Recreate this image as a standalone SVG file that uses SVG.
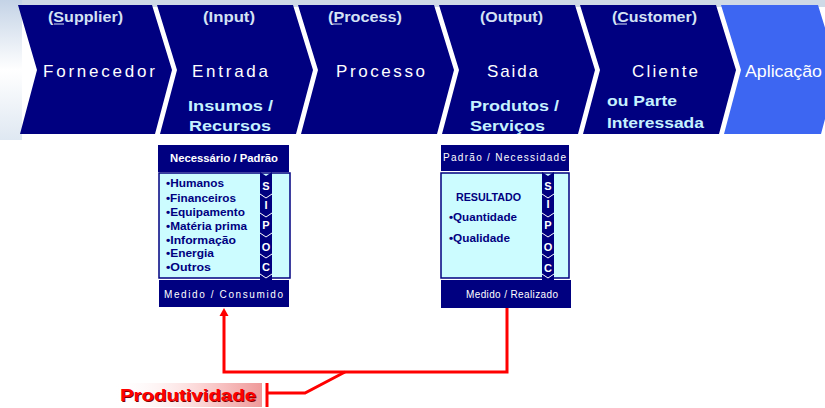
<svg xmlns="http://www.w3.org/2000/svg" width="825" height="408" viewBox="0 0 825 408">
<defs>
<linearGradient id="bgLeft" x1="0" y1="0" x2="0" y2="1">
<stop offset="0" stop-color="#c4d3e6"/><stop offset="0.5" stop-color="#ffffff"/><stop offset="1" stop-color="#dfe8f2"/>
</linearGradient>
<linearGradient id="pink" x1="0" y1="0" x2="1" y2="0">
<stop offset="0" stop-color="#ffffff" stop-opacity="0"/><stop offset="0.6" stop-color="#fbd4d4"/><stop offset="1" stop-color="#ef9a9a"/>
</linearGradient>
<style>
.chev{fill:#000080}
.top{font-family:"Liberation Sans",Arial,sans-serif;font-weight:bold;font-size:14px;fill:#d4e2f4;text-anchor:start}
.main{font-family:"Liberation Sans",Arial,sans-serif;font-size:17px;fill:#ffffff}
.sub{font-family:"Liberation Sans",Arial,sans-serif;font-weight:bold;font-size:15px;fill:#c6f2ff}
.hdr{fill:#000080}
.body{fill:#ccfcff;stroke:#000080;stroke-width:1.5}
.item{font-family:"Liberation Sans Narrow","Liberation Sans",Arial,sans-serif;font-weight:bold;font-size:11px;fill:#000080}
.wt{font-family:"Liberation Sans",Arial,sans-serif;font-size:10px;fill:#ffffff}
.wtb{font-family:"Liberation Sans Narrow","Liberation Sans",Arial,sans-serif;font-weight:bold;font-size:11px;fill:#ffffff}
.let{font-family:"Liberation Sans Narrow","Liberation Sans",Arial,sans-serif;font-weight:bold;font-size:11px;fill:#ffffff;text-anchor:middle}
.sep{fill:none;stroke:#ffffff;stroke-width:1}
.red{fill:none;stroke:#ff0000;stroke-width:3}
</style>
</defs>
<rect x="0" y="0" width="825" height="408" fill="#ffffff"/>
<rect x="0" y="0" width="825" height="7" fill="#cfd9e6"/>
<rect x="0" y="0" width="22" height="140" fill="url(#bgLeft)"/>

<g id="supplier">
<path class="chev" d="M18,5 L152,5 L172,70 L155,134 L20,134 L37,70 Z"/>
<text class="top" x="48" y="22" textLength="75" lengthAdjust="spacingAndGlyphs">(Supplier)</text>
<line x1="54" y1="24" x2="64" y2="24" stroke="#d4e2f4" stroke-width="1"/>
<text class="main" x="43" y="77" textLength="112" lengthAdjust="spacing">Fornecedor</text>
</g>
<g id="input">
<path class="chev" d="M157,5 L293,5 L313,70 L296,134 L160,134 L177,70 Z"/>
<text class="top" x="203" y="22" textLength="52" lengthAdjust="spacingAndGlyphs">(Input)</text>
<text class="main" x="192" y="77" textLength="76" lengthAdjust="spacing">Entrada</text>
<text class="sub" x="188" y="111" textLength="85" lengthAdjust="spacingAndGlyphs">Insumos /</text>
<text class="sub" x="189" y="131" textLength="82" lengthAdjust="spacingAndGlyphs">Recursos</text>
</g>
<g id="process">
<path class="chev" d="M298,5 L434,5 L454,70 L437,134 L301,134 L318,70 Z"/>
<text class="top" x="328" y="22" textLength="74" lengthAdjust="spacingAndGlyphs">(Process)</text>
<line x1="333" y1="24" x2="342" y2="24" stroke="#d4e2f4" stroke-width="1"/>
<text class="main" x="336" y="77" textLength="89" lengthAdjust="spacing">Processo</text>
</g>
<g id="output">
<path class="chev" d="M439,5 L575,5 L595,70 L578,134 L442,134 L459,70 Z"/>
<text class="top" x="480" y="22" textLength="63" lengthAdjust="spacingAndGlyphs">(Output)</text>
<text class="main" x="487" y="77" textLength="51" lengthAdjust="spacing">Saida</text>
<text class="sub" x="470" y="111" textLength="89" lengthAdjust="spacingAndGlyphs">Produtos /</text>
<text class="sub" x="470" y="131" textLength="75" lengthAdjust="spacingAndGlyphs">Serviços</text>
</g>
<g id="customer">
<path class="chev" d="M580,5 L716,5 L736,70 L719,134 L583,134 L600,70 Z"/>
<text class="top" x="612" y="22" textLength="85" lengthAdjust="spacingAndGlyphs">(Customer)</text>
<line x1="617" y1="24" x2="627" y2="24" stroke="#d4e2f4" stroke-width="1"/>
<text class="main" x="632" y="77" textLength="66" lengthAdjust="spacing">Cliente</text>
<text class="sub" x="607" y="106" textLength="70" lengthAdjust="spacingAndGlyphs">ou Parte</text>
<text class="sub" x="607" y="128" textLength="97" lengthAdjust="spacingAndGlyphs">Interessada</text>
</g>
<g id="aplicacao">
<path d="M721,5 L818,5 L838,70 L821,134 L724,134 L741,70 Z" fill="#3d66f2"/>
<text class="main" x="745" y="77" textLength="77" lengthAdjust="spacingAndGlyphs">Aplicação</text>
</g>

<g id="input-box">
<rect class="hdr" x="158" y="145" width="131" height="27"/>
<text class="wtb" x="224" y="162" text-anchor="middle" textLength="108" lengthAdjust="spacingAndGlyphs">Necessário / Padrão</text>
<rect class="body" x="159" y="173" width="131" height="105"/>
<text class="item" x="166" y="187" textLength="58" lengthAdjust="spacingAndGlyphs">•Humanos</text>
<text class="item" x="166" y="202" textLength="70" lengthAdjust="spacingAndGlyphs">•Financeiros</text>
<text class="item" x="166" y="216" textLength="79" lengthAdjust="spacingAndGlyphs">•Equipamento</text>
<text class="item" x="166" y="230" textLength="81" lengthAdjust="spacingAndGlyphs">•Matéria prima</text>
<text class="item" x="166" y="244" textLength="70" lengthAdjust="spacingAndGlyphs">•Informação</text>
<text class="item" x="166" y="257" textLength="48" lengthAdjust="spacingAndGlyphs">•Energia</text>
<text class="item" x="166" y="271" textLength="45" lengthAdjust="spacingAndGlyphs">•Outros</text>
<path class="hdr" d="M260,172 L266,176 L272,172 L272,280 L266,285 L260,280 Z"/>
<path class="sep" d="M260,194 L266,198 L272,194 M260,213 L266,217 L272,213 M260,233 L266,237 L272,233 M260,254 L266,258 L272,254 M260,274 L266,278 L272,274"/>
<text class="let" x="266" y="190">S</text>
<text class="let" x="266" y="209">I</text>
<text class="let" x="266" y="229">P</text>
<text class="let" x="266" y="251">O</text>
<text class="let" x="266" y="271">C</text>
<rect class="hdr" x="159" y="280" width="130" height="27"/>
<text class="wt" x="164" y="298" textLength="119" lengthAdjust="spacing">Medido / Consumido</text>
</g>

<g id="output-box">
<rect class="hdr" x="441" y="145" width="128" height="26"/>
<text class="wt" x="443" y="161" textLength="123" lengthAdjust="spacing">Padrão / Necessidade</text>
<rect class="body" x="441" y="173" width="128" height="105"/>
<text class="item" x="456" y="201" textLength="65" lengthAdjust="spacingAndGlyphs">RESULTADO</text>
<text class="item" x="449" y="221" textLength="68" lengthAdjust="spacingAndGlyphs">•Quantidade</text>
<text class="item" x="449" y="242" textLength="61" lengthAdjust="spacingAndGlyphs">•Qualidade</text>
<path class="hdr" d="M542,172 L548,176 L554,172 L554,280 L548,285 L542,280 Z"/>
<path class="sep" d="M542,194 L548,198 L554,194 M542,213 L548,217 L554,213 M542,233 L548,237 L554,233 M542,254 L548,258 L554,254 M542,274 L548,278 L554,274"/>
<text class="let" x="548" y="190">S</text>
<text class="let" x="548" y="208">I</text>
<text class="let" x="548" y="229">P</text>
<text class="let" x="548" y="251">O</text>
<text class="let" x="548" y="272">C</text>
<rect class="hdr" x="441" y="280" width="130" height="28"/>
<text class="wt" x="466" y="298" textLength="92" lengthAdjust="spacing">Medido / Realizado</text>
</g>

<g id="connectors">
<path class="red" d="M507,308 L507,372 L224,372 L224,314"/>
<polygon points="224,308 219.5,316 228.5,316" fill="#ff0000"/>
<path class="red" d="M267,393 L305,393 L345,372"/>
<line class="red" x1="267" y1="383" x2="267" y2="407"/>
</g>

<g id="produtividade">
<rect x="112" y="383" width="150" height="24" fill="url(#pink)"/>
<text x="121" y="402" font-family="Liberation Sans,Arial,sans-serif" font-weight="bold" font-size="17" fill="#7a0000" textLength="136" lengthAdjust="spacingAndGlyphs">Produtividade</text>
<text x="120" y="401" font-family="Liberation Sans,Arial,sans-serif" font-weight="bold" font-size="17" fill="#ff0000" textLength="136" lengthAdjust="spacingAndGlyphs">Produtividade</text>
</g>
</svg>
